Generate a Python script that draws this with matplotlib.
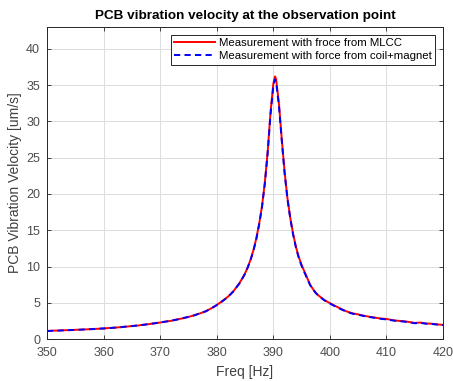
import matplotlib
matplotlib.use('Agg')
import matplotlib.pyplot as plt
import numpy as np

plt.rcParams['font.family'] = ['Liberation Sans', 'DejaVu Sans']

# frequency points [Hz]
freq = [350, 351, 352, 353, 354, 355, 356, 357, 358, 359,
        360, 361, 362, 363, 364, 365, 366, 367, 368, 369,
        370, 371, 372, 373, 374, 375, 376, 377, 378, 379,
        380, 381, 382, 383, 384, 384.5, 385, 385.5, 386, 386.5,
        387, 387.5, 388, 388.5, 389, 389.5, 390, 390.3, 390.5, 391,
        391.5, 392, 392.5, 393, 393.5, 394, 394.5, 395, 395.5, 396,
        396.5, 397, 397.5, 398, 399, 400, 401, 402, 403, 404,
        405, 406, 407, 408, 409, 410, 411, 412, 413, 414,
        415, 416, 417, 418, 419, 420]

# velocity, force from MLCC [um/s]
v_mlcc = [1.12, 1.16, 1.18, 1.22, 1.23, 1.28, 1.31, 1.34, 1.39, 1.42,
          1.46, 1.53, 1.57, 1.65, 1.71, 1.80, 1.86, 1.97, 2.06, 2.18,
          2.28, 2.42, 2.53, 2.71, 2.86, 3.05, 3.28, 3.53, 3.82, 4.22,
          4.70, 5.25, 5.85, 6.65, 7.70, 8.35, 9.05, 9.95, 11.0, 12.3,
          13.9, 15.9, 18.3, 21.6, 25.8, 31.2, 35.2, 36.2, 35.8, 32.4,
          27.5, 23.0, 19.4, 16.7, 14.5, 12.7, 11.3, 10.2, 9.3, 8.4,
          7.5, 6.9, 6.4, 6.0, 5.4, 4.95, 4.55, 4.15, 3.80, 3.55,
          3.40, 3.22, 3.08, 2.96, 2.83, 2.78, 2.62, 2.52, 2.47, 2.36,
          2.22, 2.28, 2.15, 2.12, 2.02, 1.96]

# velocity, force from coil+magnet [um/s]
v_coil = [1.10, 1.15, 1.17, 1.20, 1.24, 1.26, 1.30, 1.35, 1.37, 1.43,
          1.47, 1.51, 1.58, 1.63, 1.73, 1.79, 1.88, 1.96, 2.08, 2.17,
          2.30, 2.41, 2.55, 2.69, 2.88, 3.07, 3.26, 3.55, 3.80, 4.20,
          4.68, 5.22, 5.82, 6.62, 7.66, 8.30, 9.00, 9.90, 10.95, 12.2,
          13.8, 15.8, 18.2, 21.4, 25.6, 30.9, 34.8, 35.8, 35.4, 32.1,
          27.3, 22.8, 19.3, 16.6, 14.4, 12.6, 11.2, 10.1, 9.2, 8.3,
          7.45, 6.85, 6.35, 5.95, 5.35, 4.90, 4.48, 4.10, 3.75, 3.50,
          3.36, 3.18, 3.04, 2.92, 2.80, 2.70, 2.58, 2.48, 2.42, 2.32,
          2.18, 2.24, 2.12, 2.08, 2.00, 1.92]

xticks = [350, 360, 370, 380, 390, 400, 410, 420]
yticks = [0, 5, 10, 15, 20, 25, 30, 35, 40]

fig = plt.figure(figsize=(4.53, 3.81), dpi=100)
ax = fig.add_axes([0.1038, 0.110, 0.8742, 0.819])

ax.plot(freq, v_mlcc, color='red', lw=1.4, label='Measurement with froce from MLCC')
ax.plot(freq, v_coil, color='blue', lw=1.4, ls=(0, (3.2, 2.2)),
        label='Measurement with force from coil+magnet')

ax.set_xlim(350, 420)
ax.set_ylim(0, 43)
ax.set_xticks(xticks)
ax.set_yticks(yticks)

ax.grid(True, color='#dcdcdc', linewidth=0.7)
ax.set_axisbelow(True)
ax.tick_params(direction='in', top=True, right=True, length=3, width=0.6,
               labelsize=9, colors='#262626', labelcolor='#4d4d4d')
ax.tick_params(axis='x', pad=6)
ax.tick_params(axis='y', pad=5)
for s in ax.spines.values():
    s.set_color('#262626')
    s.set_linewidth(0.7)

ax.set_xlabel('Freq [Hz]', fontsize=10, color='#404040', labelpad=4)
ax.set_ylabel('PCB Vibration Velocity [um/s]', fontsize=10, color='#404040', labelpad=3)
ax.set_title('PCB vibration velocity at the observation point',
             fontsize=9.7, fontweight='bold', pad=6)

leg = ax.legend(loc='upper right', fontsize=8.2, frameon=True, fancybox=False,
                edgecolor='#262626', framealpha=1, borderpad=0.3,
                handlelength=3.6, handletextpad=0.3, labelspacing=0.25,
                borderaxespad=0.7)
leg.get_frame().set_linewidth(0.7)

plt.savefig('out.png', dpi=100)
